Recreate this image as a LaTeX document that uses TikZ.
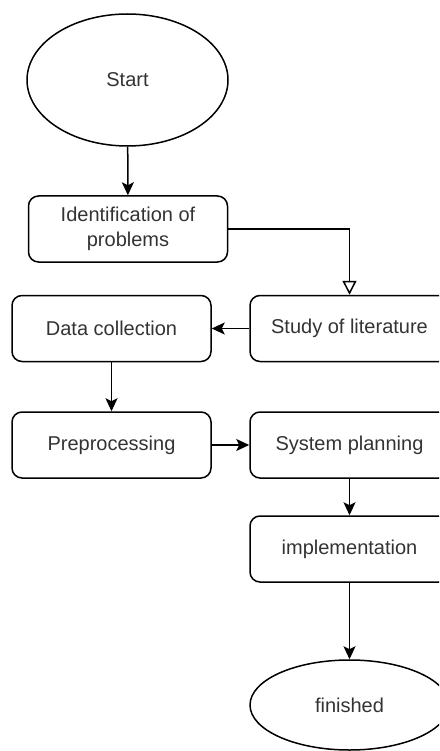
\documentclass[tikz,border=0pt]{standalone}
\usepackage{fontspec}
\setmainfont{Liberation Sans}
\usetikzlibrary{shapes.geometric,arrows.meta}
\begin{document}
\begin{tikzpicture}[x=1pt,y=-1pt,
  every node/.style={font=\fontsize{20}{25.5}\selectfont, text=black!80, inner sep=0pt, align=center},
  stepbox/.style={draw, line width=1.5pt, rounded corners=10pt, minimum width=199pt, minimum height=66pt},
  terminal/.style={draw, line width=1.5pt, ellipse, minimum width=201pt},
  flow/.style={line width=1.5pt, -{Stealth[length=13pt, width=12pt, inset=3pt]}},
  openflow/.style={line width=1.5pt, -{Triangle[open, length=14pt, width=14pt]}}]
  \useasboundingbox (0,0) rectangle (439,751);
  \clip (0,0) rectangle (439,751);
  % terminals and process steps
  \node[terminal, minimum height=132pt] (start) at (127.5,80) {Start};
  \node[stepbox] (ident) at (128,229) {Identification of\\problems};
  \node[stepbox] (study) at (349.5,328.5) {Study of literature};
  \node[stepbox] (data) at (111.5,328.5) {Data collection};
  \node[stepbox] (prep) at (111.5,445) {Preprocessing};
  \node[stepbox] (plan) at (349.5,445) {System planning};
  \node[stepbox] (impl) at (349.5,549) {implementation};
  \node[terminal, minimum width=199pt, minimum height=90pt] (fin) at (349.5,705) {finished};
  % connectors
  \draw[flow] (start) -- (ident);
  \draw[openflow] (ident.east) -| (study.north);
  \draw[flow] (study) -- (data);
  \draw[flow] (data) -- (prep);
  \draw[flow] (prep) -- (plan);
  \draw[flow] (plan) -- (impl);
  \draw[flow] (impl) -- (fin);
\end{tikzpicture}
\end{document}
